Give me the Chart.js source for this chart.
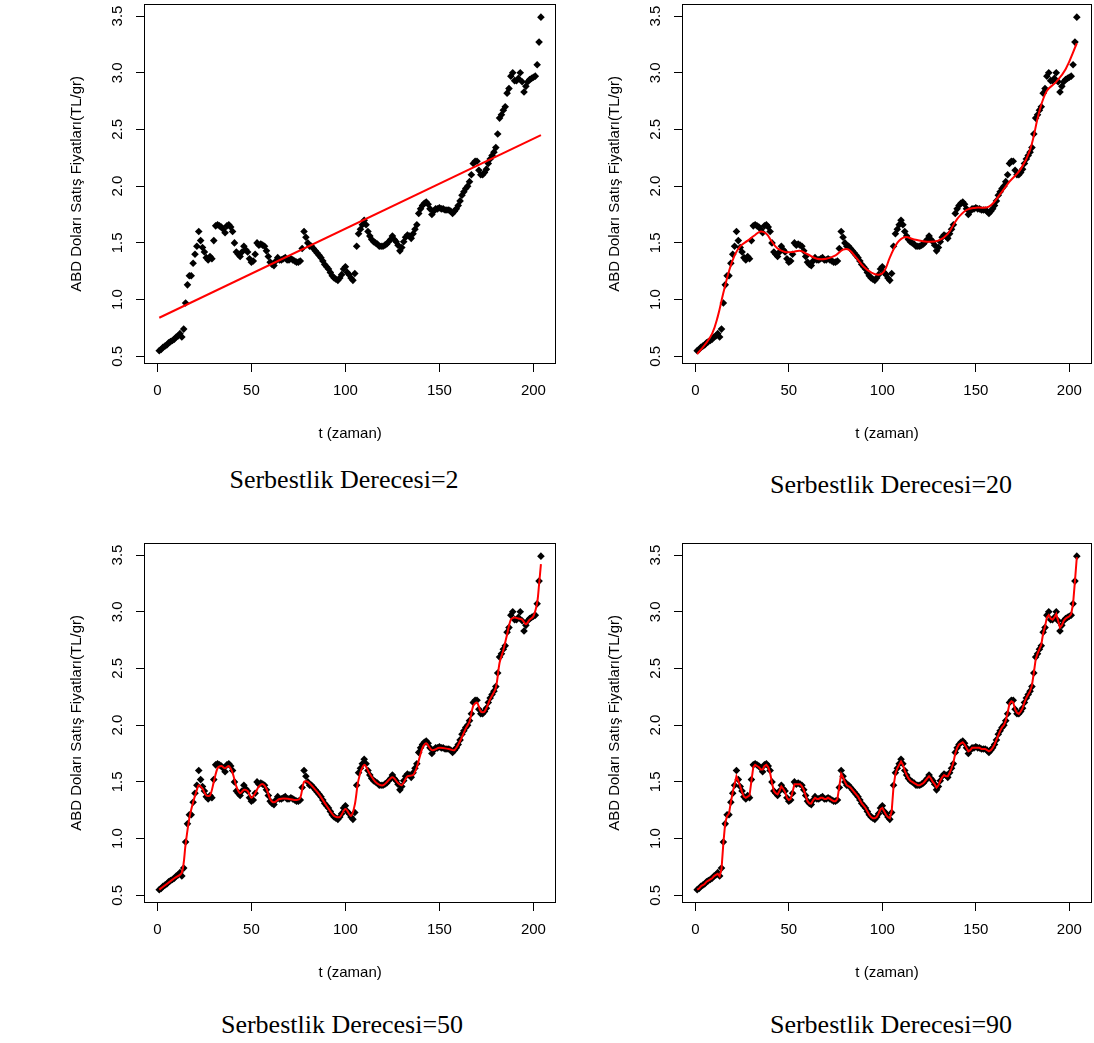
<!DOCTYPE html>
<html><head><meta charset="utf-8">
<script src="https://cdn.jsdelivr.net/npm/chart.js@4.4.0/dist/chart.umd.min.js"></script>
<style>
html,body{margin:0;padding:0;background:#fff;width:1094px;height:1043px;overflow:hidden;position:relative}
canvas{position:absolute}
.cap{position:absolute;font-family:"Liberation Serif","Times New Roman",serif;font-size:26px;line-height:30px;color:#000;white-space:nowrap;transform:translateX(-50%)}
</style></head><body>
<canvas id="c1" width="560" height="450" style="left:0px;top:0px"></canvas>
<canvas id="c2" width="560" height="450" style="left:538px;top:0px"></canvas>
<canvas id="c3" width="560" height="450" style="left:0px;top:539px"></canvas>
<canvas id="c4" width="560" height="450" style="left:538px;top:539px"></canvas>
<div class="cap" style="left:344px;top:465px">Serbestlik Derecesi=2</div>
<div class="cap" style="left:891px;top:470px">Serbestlik Derecesi=20</div>
<div class="cap" style="left:342px;top:1010px">Serbestlik Derecesi=50</div>
<div class="cap" style="left:891px;top:1010px">Serbestlik Derecesi=90</div>
<script>
// ---- data ----
const price = [
0.55,0.56,0.58,0.59,0.60,0.62,0.63,0.64,0.65,0.67,
0.68,0.70,0.67,0.74,0.97,1.13,1.21,1.21,1.32,1.40,
1.47,1.60,1.52,1.46,1.42,1.37,1.35,1.38,1.36,1.52,
1.65,1.66,1.65,1.64,1.62,1.59,1.65,1.66,1.64,1.60,
1.50,1.42,1.40,1.38,1.42,1.47,1.44,1.42,1.36,1.33,
1.34,1.40,1.50,1.48,1.49,1.48,1.47,1.43,1.38,1.33,
1.31,1.30,1.34,1.37,1.35,1.35,1.36,1.37,1.35,1.35,
1.36,1.35,1.34,1.33,1.33,1.34,1.45,1.60,1.55,1.50,
1.47,1.47,1.45,1.43,1.41,1.39,1.37,1.34,1.31,1.29,
1.27,1.24,1.21,1.19,1.18,1.17,1.19,1.22,1.27,1.29,
1.24,1.22,1.19,1.17,1.23,1.47,1.58,1.62,1.66,1.70,
1.66,1.60,1.56,1.53,1.51,1.50,1.49,1.47,1.47,1.47,
1.48,1.49,1.51,1.53,1.56,1.53,1.51,1.48,1.43,1.46,
1.51,1.55,1.57,1.56,1.54,1.58,1.62,1.66,1.76,1.80,
1.83,1.85,1.86,1.84,1.80,1.75,1.78,1.80,1.80,1.81,
1.80,1.80,1.79,1.79,1.79,1.78,1.76,1.78,1.80,1.83,
1.87,1.92,1.95,1.98,2.00,2.04,2.10,2.20,2.22,2.22,
2.14,2.10,2.10,2.12,2.15,2.20,2.24,2.27,2.30,2.34,
2.46,2.60,2.63,2.67,2.70,2.82,2.86,2.97,3.00,2.93,
2.93,2.95,3.00,2.92,2.83,2.88,2.92,2.94,2.95,2.96,
2.97,3.07,3.27,3.49];
const timeIdx = price.map((_, i) => i + 1);

// df = 2 (linear fit)
const fit2T = [1, 204];
const fit2V = [0.84, 2.45];

// df = 20
const fit20T = [1,5,9,12,15,18,21,24,28,32,35,38,41,44,48,52,56,60,65,70,75,79,82,86,90,94,98,101,104,108,112,117,124,130,135,140,145,150,157,163,168,174,179,184,188,193,198,204];
const fit20V = [0.52,0.60,0.70,0.85,1.06,1.25,1.39,1.47,1.52,1.57,1.60,1.58,1.51,1.45,1.42,1.42,1.43,1.40,1.36,1.36,1.39,1.44,1.44,1.37,1.29,1.24,1.22,1.25,1.37,1.50,1.55,1.53,1.51,1.52,1.58,1.71,1.79,1.81,1.82,1.93,2.04,2.15,2.32,2.66,2.84,2.92,3.03,3.26];

// df = 50
const fit50T = [1,5,9,13,15,17,19,21,22,24,26,28,30,32,34,36,38,40,42,44,46,48,50,52,54,56,58,60,62,65,70,74,76,78,80,83,86,90,94,97,100,103,105,107,110,113,116,120,125,128,130,133,136,138,141,143,146,150,155,158,161,164,166,168,170,172,174,177,180,182,184,186,188,190,192,194,196,198,200,202,203,204];
const fit50V = [0.55,0.60,0.65,0.70,0.95,1.18,1.32,1.43,1.47,1.44,1.38,1.38,1.50,1.62,1.64,1.62,1.64,1.58,1.46,1.40,1.43,1.42,1.36,1.40,1.46,1.48,1.44,1.35,1.32,1.35,1.35,1.34,1.36,1.50,1.50,1.45,1.39,1.29,1.20,1.19,1.26,1.20,1.30,1.52,1.65,1.57,1.50,1.47,1.54,1.49,1.47,1.55,1.56,1.63,1.80,1.84,1.78,1.80,1.79,1.78,1.86,1.97,2.03,2.17,2.20,2.12,2.12,2.23,2.33,2.55,2.66,2.80,2.93,2.95,2.94,2.93,2.89,2.93,2.96,3.08,3.24,3.42];

// df = 90
const fit90V = [
0.55,0.56,0.58,0.59,0.60,0.62,0.63,0.64,0.65,0.67,
0.68,0.69,0.67,0.73,0.96,1.14,1.20,1.22,1.32,1.41,
1.48,1.55,1.51,1.46,1.41,1.37,1.36,1.37,1.38,1.51,
1.63,1.65,1.64,1.63,1.61,1.61,1.64,1.65,1.63,1.58,
1.49,1.42,1.40,1.39,1.42,1.46,1.44,1.41,1.36,1.34,
1.35,1.41,1.48,1.48,1.48,1.48,1.46,1.43,1.38,1.33,
1.31,1.31,1.34,1.36,1.35,1.35,1.36,1.36,1.35,1.35,
1.36,1.35,1.34,1.33,1.33,1.35,1.46,1.57,1.54,1.50,
1.47,1.46,1.45,1.43,1.41,1.39,1.37,1.34,1.31,1.29,
1.27,1.24,1.21,1.19,1.18,1.18,1.19,1.22,1.26,1.27,
1.24,1.21,1.19,1.18,1.24,1.46,1.57,1.62,1.65,1.68,
1.65,1.60,1.56,1.53,1.51,1.50,1.49,1.48,1.47,1.47,
1.48,1.49,1.51,1.53,1.55,1.53,1.50,1.48,1.45,1.47,
1.51,1.54,1.56,1.55,1.55,1.58,1.62,1.67,1.75,1.80,
1.83,1.84,1.85,1.83,1.80,1.77,1.78,1.80,1.80,1.80,
1.80,1.80,1.79,1.79,1.79,1.78,1.77,1.78,1.80,1.83,
1.87,1.91,1.95,1.98,2.00,2.04,2.11,2.19,2.21,2.20,
2.14,2.11,2.10,2.12,2.15,2.20,2.24,2.27,2.30,2.35,
2.46,2.58,2.63,2.67,2.71,2.81,2.87,2.95,2.97,2.94,
2.93,2.95,2.98,2.92,2.86,2.88,2.92,2.94,2.95,2.96,
2.98,3.07,3.27,3.48];
const fit90T = timeIdx;

// axes
const xTicks = [0, 50, 100, 150, 200];
const xTickLabels = ['0', '50', '100', '150', '200'];
const yTicks = [0.5, 1.0, 1.5, 2.0, 2.5, 3.0, 3.5];
const yTickLabels = ['0.5', '1.0', '1.5', '2.0', '2.5', '3.0', '3.5'];
const xMin = -7.12, xMax = 212.12;
const yMin = 0.4324, yMax = 3.6076;
const xTitle = 't (zaman)';
const yTitle = 'ABD Doları Satış Fiyatları(TL/gr)';

Chart.defaults.font.family = '"Liberation Sans", Arial, sans-serif';
Chart.defaults.color = '#000';

const FONT = 15;

const frame = {
  id: 'frame',
  afterDraw(chart) {
    const {ctx, chartArea: a} = chart;
    ctx.save();
    ctx.strokeStyle = '#000';
    ctx.lineWidth = 1;
    ctx.strokeRect(Math.round(a.left) + 0.5, Math.round(a.top) + 0.5, Math.round(a.right - a.left) - 1, Math.round(a.bottom - a.top) - 1);
    // rotated y tick labels (R style, las = 0)
    const ys = chart.scales.y;
    ctx.fillStyle = '#000';
    ctx.font = FONT + 'px "Liberation Sans", Arial, sans-serif';
    ctx.textAlign = 'center';
    ctx.textBaseline = 'middle';
    ys.ticks.forEach((t) => {
      const py = ys.getPixelForValue(t.value);
      ctx.save();
      ctx.translate(a.left - 26, py);
      ctx.rotate(-Math.PI / 2);
      ctx.fillText(yTickLabels[yTicks.indexOf(t.value)], 0, 0);
      ctx.restore();
    });
    ctx.restore();
  }
};

function makePanel(id, fitT, fitV, tension, rightPad) {
  const tickGrid = {display: true, drawOnChartArea: false, drawTicks: true, tickLength: 8, color: '#000', lineWidth: 1};
  return new Chart(document.getElementById(id), {
    type: 'scatter',
    data: {
      datasets: [
        {type: 'line', data: fitT.map((t, i) => ({x: t, y: fitV[i]})), borderColor: '#ff0000', borderWidth: 2,
         pointRadius: 0, tension: tension, fill: false, showLine: true, order: 0},
        {type: 'scatter', data: timeIdx.map((t, i) => ({x: t, y: price[i]})), backgroundColor: '#000', borderColor: '#000',
         borderWidth: 0, pointStyle: 'rectRot', pointRadius: 3.8, pointHoverRadius: 3.8, order: 1}
      ]
    },
    options: {
      responsive: false, animation: false, devicePixelRatio: 1,
      layout: {padding: {left: 68, top: 2, right: rightPad, bottom: 7}},
      plugins: {legend: {display: false}, tooltip: {enabled: false}},
      events: [],
      scales: {
        x: {
          type: 'linear', min: xMin, max: xMax,
          afterBuildTicks: s => { s.ticks = xTicks.map(v => ({value: v})); },
          afterFit: s => { s.height = 79; },
          grid: tickGrid, border: {display: false},
          ticks: {color: '#000', font: {size: FONT}, padding: 10, maxRotation: 0, autoSkip: false,
                  callback: v => xTickLabels[xTicks.indexOf(v)]},
          title: {display: true, text: xTitle, color: '#000', font: {size: FONT, lineHeight: 1.2}, padding: 0}
        },
        y: {
          type: 'linear', min: yMin, max: yMax,
          afterBuildTicks: s => { s.ticks = yTicks.map(v => ({value: v})); },
          afterFit: s => { s.width = 76; },
          grid: tickGrid, border: {display: false},
          ticks: {display: false},
          title: {display: true, text: yTitle, color: '#000', font: {size: FONT, lineHeight: 1.2}, padding: 0}
        }
      }
    },
    plugins: [frame]
  });
}

makePanel('c1', fit2T, fit2V, 0, 3);
makePanel('c2', fit20T, fit20V, 0.4, 6);
makePanel('c3', fit50T, fit50V, 0.3, 3);
makePanel('c4', fit90T, fit90V, 0, 6);
</script>
</body></html>
